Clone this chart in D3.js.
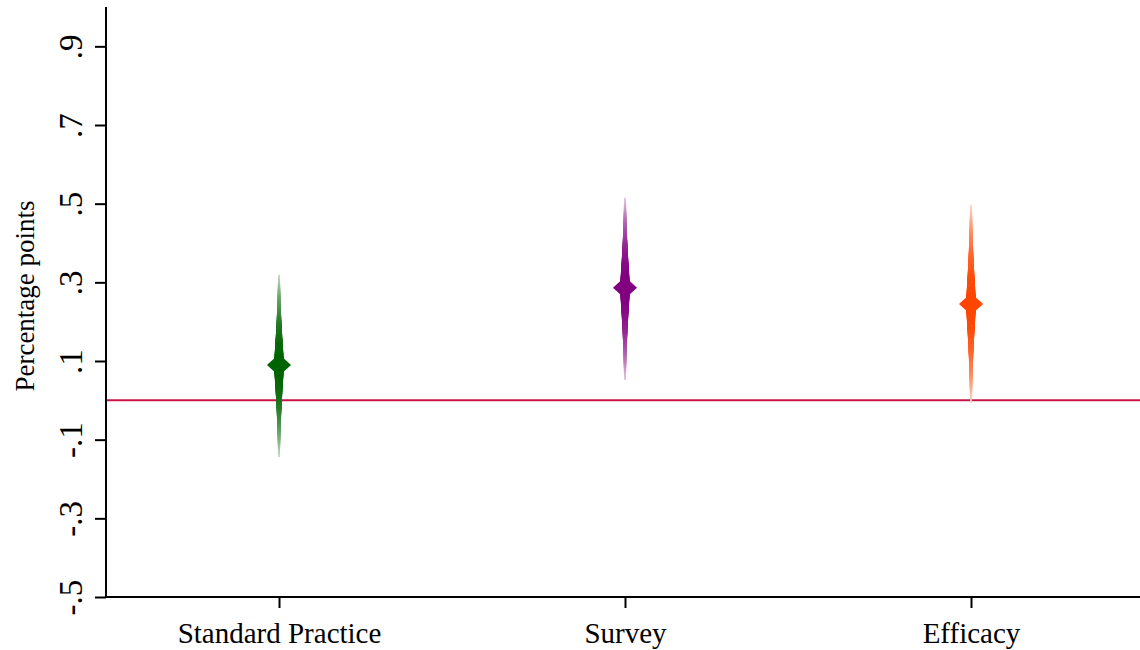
<!DOCTYPE html>
<html>
<head>
<meta charset="utf-8">
<script src="https://cdn.jsdelivr.net/npm/d3@7"></script>
<style>
  html, body { margin: 0; padding: 0; background: #fff; }
  svg { display: block; }
  text { font-family: "Liberation Serif", "Times New Roman", serif; fill: #000; }
</style>
</head>
<body>
<svg id="chart" width="1140" height="650"></svg>
<script>
// Treatment arms and their estimated effects (percentage points)
const categories = ["Standard Practice", "Survey", "Efficacy"];
const estimates  = [0.090, 0.286, 0.245];
// Outermost (99%) confidence bounds
const ciLower = [-0.144, 0.052, -0.007];
const ciUpper = [0.319, 0.515, 0.497];
const armColors = ["#006400", "#800080", "#ff4500"];

// Y axis ticks and their printed labels
const yTickValues = [-0.5, -0.3, -0.1, 0.1, 0.3, 0.5, 0.7, 0.9];
const yTickLabels = ["-.5", "-.3", "-.1", ".1", ".3", ".5", ".7", ".9"];

// Number of nested interval layers used to draw each smooth, tapering CI
const layerCount = 70;

const serif = "Liberation Serif, Times New Roman, serif";
const svg = d3.select("#chart");
const plotLeft = 106, plotBottom = 597, plotTop = 7, plotRight = 1144;

const y = d3.scaleLinear().domain([-0.5, 1.0]).range([plotBottom, plotTop]);
const x = d3.scalePoint().domain(categories).range([plotLeft, plotRight]).padding(0.5);

// Zero reference line
svg.append("line")
  .attr("x1", plotLeft).attr("x2", 1140)
  .attr("y1", y(0)).attr("y2", y(0))
  .attr("stroke", "#c8144a").attr("stroke-width", 2);

// Tapered confidence intervals + point estimates
categories.forEach((cat, i) => {
  const cx = x(cat);
  const est = estimates[i];
  const g = svg.append("g");
  // outermost layer first; inner layers are shorter, wider and darker
  const layers = d3.range(layerCount).map(k => {
    const r = 1 - k / layerCount;
    return {
      lo: est - (est - ciLower[i]) * r,
      hi: est + (ciUpper[i] - est) * r,
      w: 2 + 8.5 * Math.pow(1 - r, 1.6),
      col: d3.interpolateRgb("#ffffff", armColors[i])(1 - 0.78 * Math.pow(r, 2.2))
    };
  });
  g.selectAll("line.ci").data(layers).join("line")
    .attr("class", "ci")
    .attr("x1", cx).attr("x2", cx)
    .attr("y1", d => y(d.lo)).attr("y2", d => y(d.hi))
    .attr("stroke", d => d.col)
    .attr("stroke-width", d => d.w)
    .attr("stroke-linecap", "butt");
  const py = y(est);
  g.append("path")
    .attr("d", `M${cx},${py - 11}L${cx + 12},${py}L${cx},${py + 11}L${cx - 12},${py}Z`)
    .attr("fill", armColors[i]);
});

// Left axis
const yAxis = svg.append("g")
  .attr("transform", `translate(${plotLeft},0)`)
  .call(d3.axisLeft(y).tickValues(yTickValues)
    .tickFormat((d, i) => yTickLabels[i]).tickSize(11).tickSizeOuter(0))
  .attr("font-family", serif);
yAxis.select(".domain").attr("stroke-width", 2).attr("d", `M0,${plotTop}V${plotBottom}`);
yAxis.selectAll(".tick line").attr("stroke-width", 2);
yAxis.selectAll(".tick text")
  .attr("x", null).attr("dy", null)
  .attr("transform", "translate(-24,0) rotate(-90)")
  .attr("text-anchor", "middle")
  .attr("font-family", serif)
  .style("font-size", "33px");

// Bottom axis
const xAxis = svg.append("g")
  .attr("transform", `translate(0,${plotBottom})`)
  .call(d3.axisBottom(x).tickSize(11).tickSizeOuter(0))
  .attr("font-family", serif);
xAxis.select(".domain").attr("stroke-width", 2).attr("d", `M${plotLeft},0H1140`);
xAxis.selectAll(".tick line").attr("stroke-width", 2);
xAxis.selectAll(".tick text")
  .attr("y", 46).attr("dy", null)
  .attr("font-family", serif)
  .style("font-size", "29px");

// Y axis title
svg.append("text")
  .attr("transform", `translate(34,296) rotate(-90)`)
  .attr("text-anchor", "middle")
  .attr("font-family", serif)
  .style("font-size", "27px")
  .text("Percentage points");
</script>
</body>
</html>
